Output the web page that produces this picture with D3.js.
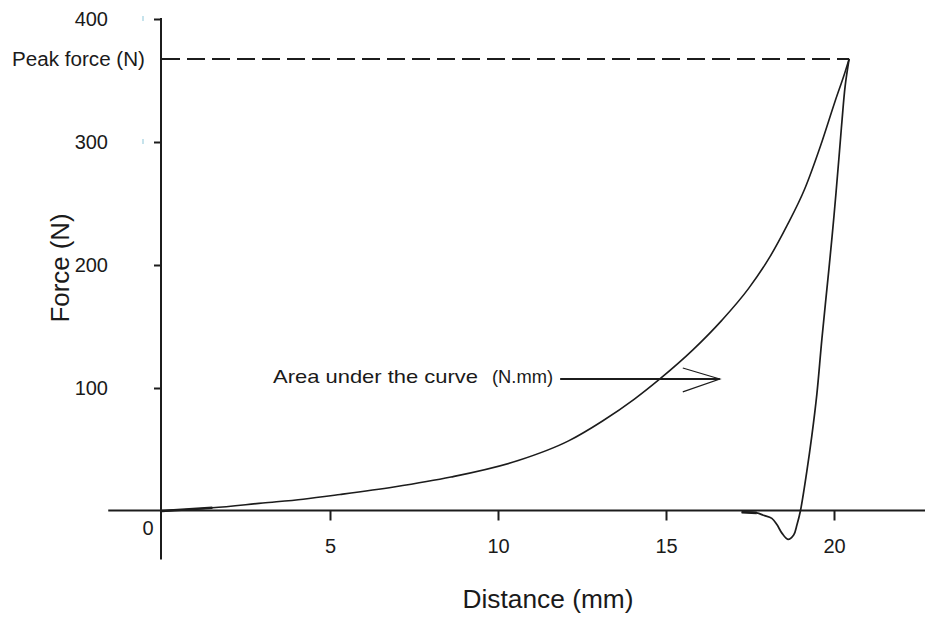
<!DOCTYPE html>
<html>
<head>
<meta charset="utf-8">
<script src="https://cdn.jsdelivr.net/npm/d3@7"></script>
<style>
  html, body { margin: 0; padding: 0; background: #fff; }
  svg { display: block; }
  text { font-family: "Liberation Sans", Arial, sans-serif; fill: #1a1a1a; }
</style>
</head>
<body>
<svg id="chart" width="925" height="619"></svg>
<script>
// ---- data ----
const xTicks = [5, 10, 15, 20];
const yTicks = [100, 200, 300, 400];
const loadX = [0, 1.5, 3.0, 4.2, 5.3, 6.9, 8.6, 10.6, 12.1, 13.1, 14.06, 14.8, 15.8, 16.66, 17.46, 18.1, 18.6, 19.13, 19.6, 20.03, 20.33, 20.45];
const loadF = [0, 2.6, 6.5, 9.6, 13.4, 19.5, 27.6, 41, 57, 73, 91, 107, 131, 155, 181, 207, 232, 262, 297, 333, 357, 367.5];
const unloadX = [20.45, 20.33, 20.24, 20.15, 20.0, 19.85, 19.64, 19.49, 19.34, 19.19, 19.0, 18.9, 18.8, 18.63, 18.45, 18.3, 18.15, 17.9, 17.7, 17.25];
const unloadF = [367.5, 345, 318, 288, 240, 197, 140, 95, 61, 32, 0, -11, -19.5, -23, -18, -11, -6, -3.5, -1.5, -1];
const peakForce = 367.5;
const peakDist = 20.45;
const xTitle = "Distance (mm)";
const yTitle = "Force (N)";
const peakLabel = "Peak force (N)";
const areaLabel = "Area under the curve";
const areaUnit = "(N.mm)";

// ---- scales ----
const svg = d3.select("#chart");
const x = d3.scaleLinear().domain([0, 20]).range([162, 834]);
const y = d3.scaleLinear().domain([0, 400]).range([511, 19]);

const ink = "#1c1c1c";

// axes lines (crossing at origin)
svg.append("line").attr("x1", x(-1.6)).attr("x2", 925).attr("y1", y(0) - 0.5).attr("y2", y(0) - 0.5)
  .attr("stroke", ink).attr("stroke-width", 2);
svg.append("line").attr("x1", x(0) - 1).attr("x2", x(0) - 1).attr("y1", y(400) - 1).attr("y2", y(-39.5))
  .attr("stroke", ink).attr("stroke-width", 2);

// x axis ticks
const xAxis = d3.axisBottom(x).tickValues(xTicks).tickSize(10).tickPadding(18).tickFormat(d3.format("d"));
const gx = svg.append("g").attr("transform", `translate(0,${y(0) - 0.5})`).call(xAxis);
gx.select(".domain").remove();
gx.selectAll(".tick line").attr("stroke", ink).attr("stroke-width", 2);
gx.selectAll(".tick text").style("font-size", "20px").attr("fill", "#1a1a1a")
  .style("font-family", "'Liberation Sans', Arial, sans-serif");

// y axis ticks
const yAxis = d3.axisLeft(y).tickValues(yTicks).tickSize(7).tickPadding(46).tickFormat(d3.format("d"));
const gy = svg.append("g").attr("transform", `translate(${x(0) - 1},0)`).call(yAxis);
gy.select(".domain").remove();
gy.selectAll(".tick line").attr("stroke", ink).attr("stroke-width", 2);
gy.selectAll(".tick text").style("font-size", "20px").attr("fill", "#1a1a1a")
  .style("font-family", "'Liberation Sans', Arial, sans-serif");

// faint specks next to the top labels
[400, 300].forEach(v => {
  svg.append("rect").attr("x", 142).attr("y", y(v) - 3).attr("width", 2).attr("height", 5).attr("fill", "#c6e3ec");
});

// origin label
svg.append("text").attr("x", x(0) - 14).attr("y", y(0) + 24).attr("text-anchor", "middle")
  .style("font-size", "20px").text("0");

// axis titles
svg.append("text").attr("x", 548).attr("y", 608).attr("text-anchor", "middle")
  .attr("textLength", 171).attr("lengthAdjust", "spacingAndGlyphs")
  .style("font-size", "26px").text(xTitle);
svg.append("text").attr("transform", "translate(69,268) rotate(-90)").attr("text-anchor", "middle")
  .attr("textLength", 109).attr("lengthAdjust", "spacingAndGlyphs")
  .style("font-size", "26px").text(yTitle);

// peak force dashed line and label
svg.append("line").attr("x1", x(0)).attr("x2", x(peakDist)).attr("y1", y(peakForce)).attr("y2", y(peakForce))
  .attr("stroke", ink).attr("stroke-width", 1.8).attr("stroke-dasharray", "18,7");
svg.append("text").attr("x", 12).attr("y", y(peakForce) + 7)
  .attr("textLength", 133).attr("lengthAdjust", "spacingAndGlyphs")
  .style("font-size", "20px").text(peakLabel);

// curves
const loadData = loadX.map((d, i) => [d, loadF[i]]);
const unloadData = unloadX.map((d, i) => [d, unloadF[i]]);
const loadGen = d3.line().x(d => x(d[0])).y(d => y(d[1])).curve(d3.curveMonotoneX);
const unloadGen = d3.line().x(d => x(d[0])).y(d => y(d[1])).curve(d3.curveCatmullRom.alpha(0.5));

svg.append("path").datum(loadData).attr("d", loadGen)
  .attr("fill", "none").attr("stroke", ink).attr("stroke-width", 1.6);
svg.append("path").datum(unloadData).attr("d", unloadGen)
  .attr("fill", "none").attr("stroke", ink).attr("stroke-width", 1.7);
// thicker overlaps near the axis
svg.append("path").datum(loadData.slice(0, 2)).attr("d", d3.line().x(d => x(d[0])).y(d => y(d[1])))
  .attr("fill", "none").attr("stroke", ink).attr("stroke-width", 2.6);
svg.append("path").datum(unloadData.slice(-2)).attr("d", d3.line().x(d => x(d[0])).y(d => y(d[1])))
  .attr("fill", "none").attr("stroke", ink).attr("stroke-width", 2.6);

// area annotation with arrow
const arrowF = 107.3;
svg.append("text").attr("x", 273).attr("y", y(arrowF) + 4)
  .attr("textLength", 205).attr("lengthAdjust", "spacingAndGlyphs")
  .style("font-size", "19px").text(areaLabel);
svg.append("text").attr("x", 492).attr("y", y(arrowF) + 4)
  .attr("textLength", 61).attr("lengthAdjust", "spacingAndGlyphs")
  .style("font-size", "19px").text(areaUnit);
svg.append("line").attr("x1", x(11.85)).attr("x2", x(16.6)).attr("y1", y(arrowF)).attr("y2", y(arrowF))
  .attr("stroke", ink).attr("stroke-width", 1.8);
svg.append("path")
  .attr("d", `M${x(15.5)},${y(arrowF + 9)} L${x(16.6)},${y(arrowF)} L${x(15.5)},${y(arrowF - 10.5)}`)
  .attr("fill", "none").attr("stroke", ink).attr("stroke-width", 1.2);
</script>
</body>
</html>
